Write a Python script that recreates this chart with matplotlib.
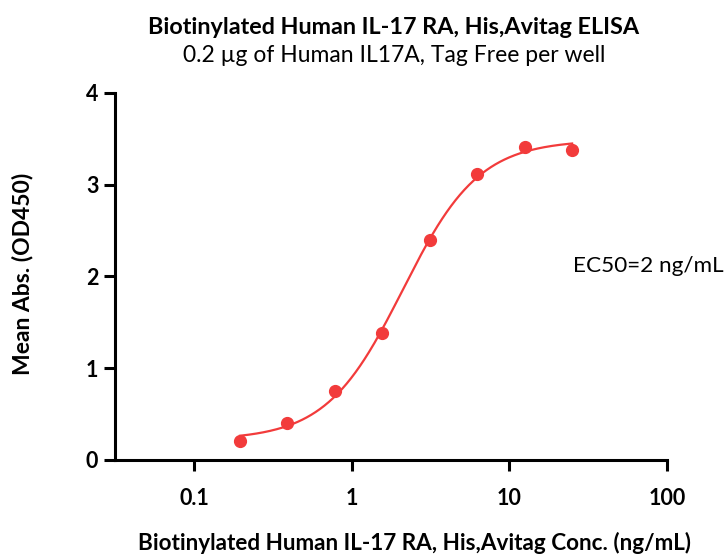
import numpy as np
import matplotlib
matplotlib.use("Agg")
import matplotlib.pyplot as plt
from matplotlib.ticker import FixedLocator, FixedFormatter, NullLocator

conc = [0.195, 0.39, 0.78, 1.5625, 3.125, 6.25, 12.5, 25.0]
absorb = [0.21, 0.40, 0.755, 1.38, 2.40, 3.11, 3.41, 3.38]
x_ticks = [0.1, 1, 10, 100]
x_tick_labels = ["0.1", "1", "10", "100"]
y_ticks = [0, 1, 2, 3, 4]

title = "Biotinylated Human IL-17 RA, His,Avitag ELISA"
subtitle = "0.2 µg of Human IL17A, Tag Free per well"
xlabel = "Biotinylated Human IL-17 RA, His,Avitag Conc. (ng/mL)"
ylabel = "Mean Abs. (OD450)"
ec50_text = "EC50=2 ng/mL"

color = "#F23B3B"

plt.rcParams['font.family'] = ['Lato', 'DejaVu Sans']

def four_pl(x, p):
    bottom, top, logec, hill = p
    return bottom + (top - bottom) / (1 + 10 ** ((logec - np.log10(x)) * hill))

def fit_4pl(x, y):
    x = np.asarray(x); y = np.asarray(y)
    p = np.array([min(y), max(y), np.log10(2.0), 1.0])
    lam = 1e-3
    for _ in range(500):
        r = y - four_pl(x, p)
        J = np.zeros((len(x), 4))
        for i in range(4):
            dp = np.zeros(4); dp[i] = 1e-6
            J[:, i] = (four_pl(x, p + dp) - four_pl(x, p - dp)) / 2e-6
        A = J.T @ J
        g = J.T @ r
        step = np.linalg.solve(A + lam * np.diag(np.diag(A)), g)
        pn = p + step
        if np.sum((y - four_pl(x, pn)) ** 2) < np.sum(r ** 2):
            p = pn; lam *= 0.5
        else:
            lam *= 4
    return p

params = fit_4pl(conc, absorb)
xs = np.logspace(np.log10(conc[0]), np.log10(conc[-1]), 300)

W, H = 724, 558
fig = plt.figure(figsize=(W / 100, H / 100), dpi=100)
ax = fig.add_axes([115 / W, 1 - 460 / H, (667 - 115) / W, (460 - 92.7) / H])
ax.plot(xs, four_pl(xs, params), color=color, lw=1.6, zorder=2)
ax.plot(conc, absorb, 'o', color=color, ms=8.5, zorder=3, clip_on=False)

ax.set_xscale('log')
ax.set_xlim(0.0314, 100)
ax.set_ylim(0, 4)
ax.xaxis.set_major_locator(FixedLocator(x_ticks))
ax.xaxis.set_major_formatter(FixedFormatter(x_tick_labels))
ax.xaxis.set_minor_locator(NullLocator())
ax.set_yticks(y_ticks)
for s in ['top', 'right']:
    ax.spines[s].set_visible(False)
for s in ['left', 'bottom']:
    ax.spines[s].set_linewidth(2.2)
ax.tick_params(axis='both', width=2.2, length=8, labelsize=15.5, pad=4)
ax.tick_params(axis='x', pad=12)
for lab in ax.get_xticklabels() + ax.get_yticklabels():
    lab.set_fontweight('bold')

fig.text(414 / W, 1 - 543 / H, xlabel, ha='center', va='center', fontsize=16.2, fontweight='bold')
fig.text(23 / W, 1 - 274 / H, ylabel, ha='center', va='center', rotation=90, fontsize=16.5, fontweight='bold')

fig.text(394 / W, 1 - 27 / H, title, ha='center', va='center', fontsize=16.8, fontweight='bold')
fig.text(394 / W, 1 - 55 / H, subtitle, ha='center', va='center', fontsize=16.5)
fig.text(573 / W, 1 - 266 / H, ec50_text, ha='left', va='center', fontsize=16.2)

fig.savefig("out.png", dpi=100)
